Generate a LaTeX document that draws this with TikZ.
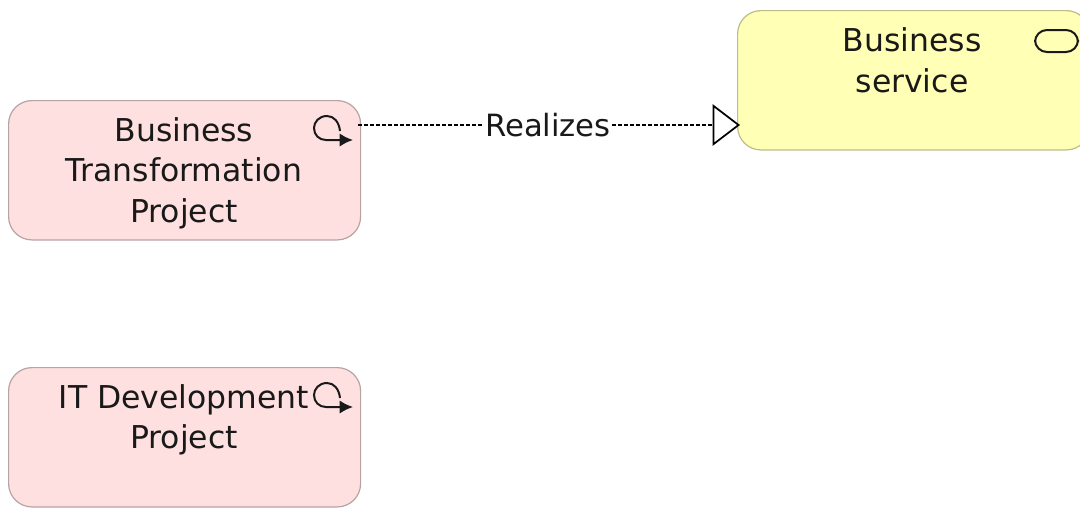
\documentclass[tikz,border=0pt]{standalone}
\usepackage{fontspec}
\setmainfont{DejaVu Sans}
\usetikzlibrary{arrows.meta}
\definecolor{pinkf}{HTML}{FFE0E0}
\definecolor{pinkd}{HTML}{B8A3A3}
\definecolor{yelf}{HTML}{FFFFB5}
\definecolor{yeld}{HTML}{BDBD88}
\tikzset{x=0.75pt,y=-0.75pt,
 box/.style={draw,rounded corners=17.5pt,line width=0.9pt,inner sep=0pt,anchor=north west},
 lbl/.style={font=\fontsize{23.6}{30.4}\selectfont,align=center,inner sep=0pt,text=black!90},
 icon/.style={line width=1.5pt,black!90}}
\begin{document}
\begin{tikzpicture}
\useasboundingbox (0,0) rectangle (1080,507);
\path[clip] (0,0) rectangle (1080,507);
\node[box,fill=pinkf,draw=pinkd,minimum width=264pt,minimum height=104.5pt] (bt) at (8,100) {};
\node[box,fill=pinkf,draw=pinkd,minimum width=264pt,minimum height=104.5pt] (it) at (8,367) {};
\node[box,fill=yelf,draw=yeld,minimum width=264pt,minimum height=104.5pt] (bs) at (737,10) {};
\node[lbl] (t1) at (184,173) {Business\\Transformation\\Project};
\node[lbl] (t2) at (184,420) {IT Development\\Project};
\node[lbl] (t3) at (912,60.5) {Business\\service};
\node[lbl,font=\fontsize{23}{30}\selectfont,fill=white,inner xsep=1pt] (rz) at (548,125) {Realizes};
\coordinate (src) at (358,125);
\coordinate (dst) at (740,125);
\draw[line width=1pt,dash pattern=on 3pt off 1.5pt] (src) -- (src -| rz.west);
\draw[line width=1pt,dash pattern=on 3pt off 1.5pt,-{Triangle[open,fill=white,length=20.5pt,width=31pt,line width=1.3pt]}] (src -| rz.east) -- (dst);
\draw[icon,rounded corners=9pt] (1035,30) rectangle (1078,52);
\foreach \y in {0,267}{
 \draw[icon,-{Latex[length=10pt,width=10pt]}] (340,131+\y) .. controls (339,122+\y) and (334,116+\y) .. (327,116+\y) .. controls (319,116+\y) and (314,122+\y) .. (314,128+\y) .. controls (314,135+\y) and (319,140+\y) .. (326,140+\y) -- (353,140+\y);
}
\end{tikzpicture}
\end{document}
